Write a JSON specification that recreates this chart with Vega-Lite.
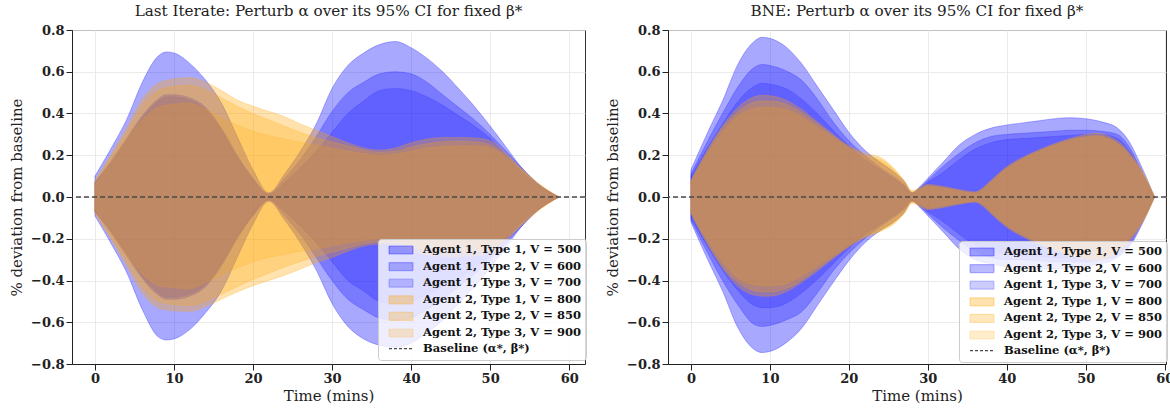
{
"$schema": "https://vega.github.io/schema/vega-lite/v6.json",
"background": "white",
"padding": {"left": 8, "right": 0, "top": 3, "bottom": 0},
"spacing": 17,
"config": {
  "font": "DejaVu Serif",
  "view": {"stroke": "#333333", "strokeWidth": 1},
  "axis": {"labelFont": "DejaVu Serif", "labelFontWeight": "bold", "labelFontSize": 13, "labelColor": "#222", "labelPadding": 2,
           "titleFont": "DejaVu Serif", "titleFontWeight": "normal", "titleFontSize": 15, "titleColor": "#222",
           "grid": true, "gridColor": "#e6e6e6", "gridWidth": 0.8, "tickColor": "#222", "tickSize": 6, "domainColor": "#222"},
  "axisX": {"titlePadding": 3},
  "axisY": {"titlePadding": 6},
  "title": {"font": "DejaVu Serif", "fontSize": 15.2, "fontWeight": "normal", "color": "#222", "offset": 5},
  "legend": {"fillColor": "rgba(255,255,255,0.8)", "strokeColor": "#cccccc", "cornerRadius": 3, "padding": 5,
             "labelFont": "DejaVu Serif", "labelFontSize": 11.5, "labelFontWeight": "bold", "labelColor": "#111", "labelLimit": 300,
             "symbolSize": 100, "rowPadding": 2.6, "labelOffset": 16, "symbolOffset": 12}
},
"datasets": {
"bands": [
{"p":"L","s":"B1","t":0,"hi":0.10,"lo":-0.09},{"p":"L","s":"B1","t":2,"hi":0.23,"lo":-0.22},{"p":"L","s":"B1","t":4,"hi":0.37,"lo":-0.36},{"p":"L","s":"B1","t":6,"hi":0.55,"lo":-0.54},{"p":"L","s":"B1","t":8,"hi":0.675,"lo":-0.67},{"p":"L","s":"B1","t":9,"hi":0.695,"lo":-0.685},{"p":"L","s":"B1","t":10,"hi":0.69,"lo":-0.68},{"p":"L","s":"B1","t":12,"hi":0.64,"lo":-0.635},{"p":"L","s":"B1","t":14,"hi":0.56,"lo":-0.555},{"p":"L","s":"B1","t":16,"hi":0.45,"lo":-0.45},{"p":"L","s":"B1","t":18,"hi":0.29,"lo":-0.29},{"p":"L","s":"B1","t":20,"hi":0.13,"lo":-0.13},{"p":"L","s":"B1","t":22,"hi":0.02,"lo":-0.02},{"p":"L","s":"B1","t":24,"hi":0.11,"lo":-0.11},{"p":"L","s":"B1","t":26,"hi":0.22,"lo":-0.22},{"p":"L","s":"B1","t":28,"hi":0.35,"lo":-0.35},{"p":"L","s":"B1","t":30,"hi":0.52,"lo":-0.51},{"p":"L","s":"B1","t":32,"hi":0.63,"lo":-0.62},{"p":"L","s":"B1","t":34,"hi":0.69,"lo":-0.68},{"p":"L","s":"B1","t":36,"hi":0.73,"lo":-0.71},{"p":"L","s":"B1","t":38,"hi":0.745,"lo":-0.72},{"p":"L","s":"B1","t":40,"hi":0.715,"lo":-0.70},{"p":"L","s":"B1","t":42,"hi":0.665,"lo":-0.65},{"p":"L","s":"B1","t":44,"hi":0.60,"lo":-0.59},{"p":"L","s":"B1","t":46,"hi":0.52,"lo":-0.51},{"p":"L","s":"B1","t":48,"hi":0.435,"lo":-0.43},{"p":"L","s":"B1","t":50,"hi":0.34,"lo":-0.34},{"p":"L","s":"B1","t":52,"hi":0.24,"lo":-0.24},{"p":"L","s":"B1","t":54,"hi":0.14,"lo":-0.14},{"p":"L","s":"B1","t":56,"hi":0.065,"lo":-0.065},{"p":"L","s":"B1","t":58.7,"hi":0,"lo":0},
{"p":"L","s":"B2","t":0,"hi":0.07,"lo":-0.07},{"p":"L","s":"B2","t":2,"hi":0.17,"lo":-0.17},{"p":"L","s":"B2","t":4,"hi":0.28,"lo":-0.28},{"p":"L","s":"B2","t":6,"hi":0.39,"lo":-0.39},{"p":"L","s":"B2","t":8,"hi":0.47,"lo":-0.47},{"p":"L","s":"B2","t":9,"hi":0.49,"lo":-0.49},{"p":"L","s":"B2","t":10,"hi":0.49,"lo":-0.49},{"p":"L","s":"B2","t":12,"hi":0.475,"lo":-0.475},{"p":"L","s":"B2","t":14,"hi":0.43,"lo":-0.43},{"p":"L","s":"B2","t":16,"hi":0.33,"lo":-0.33},{"p":"L","s":"B2","t":18,"hi":0.20,"lo":-0.20},{"p":"L","s":"B2","t":20,"hi":0.09,"lo":-0.09},{"p":"L","s":"B2","t":22,"hi":0.015,"lo":-0.015},{"p":"L","s":"B2","t":24,"hi":0.09,"lo":-0.09},{"p":"L","s":"B2","t":26,"hi":0.18,"lo":-0.18},{"p":"L","s":"B2","t":28,"hi":0.29,"lo":-0.29},{"p":"L","s":"B2","t":30,"hi":0.41,"lo":-0.40},{"p":"L","s":"B2","t":32,"hi":0.50,"lo":-0.49},{"p":"L","s":"B2","t":34,"hi":0.55,"lo":-0.54},{"p":"L","s":"B2","t":36,"hi":0.59,"lo":-0.58},{"p":"L","s":"B2","t":38,"hi":0.60,"lo":-0.59},{"p":"L","s":"B2","t":40,"hi":0.59,"lo":-0.58},{"p":"L","s":"B2","t":42,"hi":0.55,"lo":-0.54},{"p":"L","s":"B2","t":44,"hi":0.49,"lo":-0.49},{"p":"L","s":"B2","t":46,"hi":0.43,"lo":-0.43},{"p":"L","s":"B2","t":48,"hi":0.37,"lo":-0.37},{"p":"L","s":"B2","t":50,"hi":0.30,"lo":-0.30},{"p":"L","s":"B2","t":52,"hi":0.22,"lo":-0.22},{"p":"L","s":"B2","t":54,"hi":0.14,"lo":-0.14},{"p":"L","s":"B2","t":56,"hi":0.065,"lo":-0.065},{"p":"L","s":"B2","t":58.7,"hi":0,"lo":0},
{"p":"L","s":"B3","t":0,"hi":0.07,"lo":-0.07},{"p":"L","s":"B3","t":2,"hi":0.16,"lo":-0.16},{"p":"L","s":"B3","t":4,"hi":0.27,"lo":-0.27},{"p":"L","s":"B3","t":6,"hi":0.38,"lo":-0.38},{"p":"L","s":"B3","t":8,"hi":0.46,"lo":-0.46},{"p":"L","s":"B3","t":9,"hi":0.48,"lo":-0.48},{"p":"L","s":"B3","t":10,"hi":0.48,"lo":-0.48},{"p":"L","s":"B3","t":12,"hi":0.465,"lo":-0.465},{"p":"L","s":"B3","t":14,"hi":0.42,"lo":-0.42},{"p":"L","s":"B3","t":16,"hi":0.32,"lo":-0.32},{"p":"L","s":"B3","t":18,"hi":0.19,"lo":-0.19},{"p":"L","s":"B3","t":20,"hi":0.085,"lo":-0.085},{"p":"L","s":"B3","t":22,"hi":0.012,"lo":-0.012},{"p":"L","s":"B3","t":24,"hi":0.07,"lo":-0.07},{"p":"L","s":"B3","t":26,"hi":0.14,"lo":-0.14},{"p":"L","s":"B3","t":28,"hi":0.22,"lo":-0.22},{"p":"L","s":"B3","t":30,"hi":0.31,"lo":-0.31},{"p":"L","s":"B3","t":32,"hi":0.40,"lo":-0.40},{"p":"L","s":"B3","t":34,"hi":0.46,"lo":-0.45},{"p":"L","s":"B3","t":36,"hi":0.51,"lo":-0.50},{"p":"L","s":"B3","t":38,"hi":0.52,"lo":-0.51},{"p":"L","s":"B3","t":40,"hi":0.51,"lo":-0.50},{"p":"L","s":"B3","t":42,"hi":0.48,"lo":-0.47},{"p":"L","s":"B3","t":44,"hi":0.44,"lo":-0.43},{"p":"L","s":"B3","t":46,"hi":0.39,"lo":-0.39},{"p":"L","s":"B3","t":48,"hi":0.34,"lo":-0.34},{"p":"L","s":"B3","t":50,"hi":0.28,"lo":-0.28},{"p":"L","s":"B3","t":52,"hi":0.20,"lo":-0.20},{"p":"L","s":"B3","t":54,"hi":0.12,"lo":-0.12},{"p":"L","s":"B3","t":56,"hi":0.06,"lo":-0.06},{"p":"L","s":"B3","t":58.7,"hi":0,"lo":0},
{"p":"L","s":"O1","t":0,"hi":0.08,"lo":-0.08},{"p":"L","s":"O1","t":2,"hi":0.20,"lo":-0.20},{"p":"L","s":"O1","t":4,"hi":0.33,"lo":-0.33},{"p":"L","s":"O1","t":6,"hi":0.47,"lo":-0.46},{"p":"L","s":"O1","t":8,"hi":0.545,"lo":-0.53},{"p":"L","s":"O1","t":10,"hi":0.565,"lo":-0.545},{"p":"L","s":"O1","t":12,"hi":0.572,"lo":-0.548},{"p":"L","s":"O1","t":14,"hi":0.55,"lo":-0.525},{"p":"L","s":"O1","t":16,"hi":0.51,"lo":-0.49},{"p":"L","s":"O1","t":18,"hi":0.465,"lo":-0.455},{"p":"L","s":"O1","t":20,"hi":0.435,"lo":-0.425},{"p":"L","s":"O1","t":22,"hi":0.41,"lo":-0.40},{"p":"L","s":"O1","t":24,"hi":0.385,"lo":-0.375},{"p":"L","s":"O1","t":26,"hi":0.35,"lo":-0.345},{"p":"L","s":"O1","t":28,"hi":0.32,"lo":-0.315},{"p":"L","s":"O1","t":30,"hi":0.29,"lo":-0.29},{"p":"L","s":"O1","t":32,"hi":0.26,"lo":-0.26},{"p":"L","s":"O1","t":34,"hi":0.235,"lo":-0.235},{"p":"L","s":"O1","t":36,"hi":0.225,"lo":-0.225},{"p":"L","s":"O1","t":38,"hi":0.235,"lo":-0.235},{"p":"L","s":"O1","t":40,"hi":0.26,"lo":-0.26},{"p":"L","s":"O1","t":42,"hi":0.278,"lo":-0.278},{"p":"L","s":"O1","t":44,"hi":0.285,"lo":-0.285},{"p":"L","s":"O1","t":46,"hi":0.285,"lo":-0.285},{"p":"L","s":"O1","t":48,"hi":0.283,"lo":-0.283},{"p":"L","s":"O1","t":50,"hi":0.27,"lo":-0.27},{"p":"L","s":"O1","t":52,"hi":0.21,"lo":-0.21},{"p":"L","s":"O1","t":54,"hi":0.135,"lo":-0.135},{"p":"L","s":"O1","t":56,"hi":0.07,"lo":-0.07},{"p":"L","s":"O1","t":58.7,"hi":0,"lo":0},
{"p":"L","s":"O2","t":0,"hi":0.07,"lo":-0.07},{"p":"L","s":"O2","t":2,"hi":0.19,"lo":-0.19},{"p":"L","s":"O2","t":4,"hi":0.31,"lo":-0.31},{"p":"L","s":"O2","t":6,"hi":0.44,"lo":-0.43},{"p":"L","s":"O2","t":8,"hi":0.51,"lo":-0.50},{"p":"L","s":"O2","t":10,"hi":0.53,"lo":-0.515},{"p":"L","s":"O2","t":12,"hi":0.535,"lo":-0.52},{"p":"L","s":"O2","t":14,"hi":0.515,"lo":-0.50},{"p":"L","s":"O2","t":16,"hi":0.475,"lo":-0.465},{"p":"L","s":"O2","t":18,"hi":0.435,"lo":-0.43},{"p":"L","s":"O2","t":20,"hi":0.40,"lo":-0.395},{"p":"L","s":"O2","t":22,"hi":0.37,"lo":-0.365},{"p":"L","s":"O2","t":24,"hi":0.34,"lo":-0.335},{"p":"L","s":"O2","t":26,"hi":0.31,"lo":-0.31},{"p":"L","s":"O2","t":28,"hi":0.285,"lo":-0.285},{"p":"L","s":"O2","t":30,"hi":0.265,"lo":-0.265},{"p":"L","s":"O2","t":32,"hi":0.245,"lo":-0.245},{"p":"L","s":"O2","t":34,"hi":0.225,"lo":-0.225},{"p":"L","s":"O2","t":36,"hi":0.215,"lo":-0.215},{"p":"L","s":"O2","t":38,"hi":0.22,"lo":-0.22},{"p":"L","s":"O2","t":40,"hi":0.24,"lo":-0.24},{"p":"L","s":"O2","t":42,"hi":0.255,"lo":-0.255},{"p":"L","s":"O2","t":44,"hi":0.265,"lo":-0.265},{"p":"L","s":"O2","t":46,"hi":0.268,"lo":-0.268},{"p":"L","s":"O2","t":48,"hi":0.265,"lo":-0.265},{"p":"L","s":"O2","t":50,"hi":0.25,"lo":-0.25},{"p":"L","s":"O2","t":52,"hi":0.20,"lo":-0.20},{"p":"L","s":"O2","t":54,"hi":0.13,"lo":-0.13},{"p":"L","s":"O2","t":56,"hi":0.065,"lo":-0.065},{"p":"L","s":"O2","t":58.7,"hi":0,"lo":0},
{"p":"L","s":"O3","t":0,"hi":0.06,"lo":-0.06},{"p":"L","s":"O3","t":2,"hi":0.17,"lo":-0.17},{"p":"L","s":"O3","t":4,"hi":0.28,"lo":-0.28},{"p":"L","s":"O3","t":6,"hi":0.37,"lo":-0.37},{"p":"L","s":"O3","t":8,"hi":0.43,"lo":-0.425},{"p":"L","s":"O3","t":10,"hi":0.445,"lo":-0.435},{"p":"L","s":"O3","t":12,"hi":0.45,"lo":-0.44},{"p":"L","s":"O3","t":14,"hi":0.42,"lo":-0.41},{"p":"L","s":"O3","t":16,"hi":0.38,"lo":-0.375},{"p":"L","s":"O3","t":18,"hi":0.345,"lo":-0.34},{"p":"L","s":"O3","t":20,"hi":0.315,"lo":-0.31},{"p":"L","s":"O3","t":22,"hi":0.295,"lo":-0.29},{"p":"L","s":"O3","t":24,"hi":0.278,"lo":-0.275},{"p":"L","s":"O3","t":26,"hi":0.262,"lo":-0.26},{"p":"L","s":"O3","t":28,"hi":0.248,"lo":-0.248},{"p":"L","s":"O3","t":30,"hi":0.235,"lo":-0.235},{"p":"L","s":"O3","t":32,"hi":0.22,"lo":-0.22},{"p":"L","s":"O3","t":34,"hi":0.208,"lo":-0.208},{"p":"L","s":"O3","t":36,"hi":0.20,"lo":-0.20},{"p":"L","s":"O3","t":38,"hi":0.205,"lo":-0.205},{"p":"L","s":"O3","t":40,"hi":0.22,"lo":-0.22},{"p":"L","s":"O3","t":42,"hi":0.235,"lo":-0.235},{"p":"L","s":"O3","t":44,"hi":0.242,"lo":-0.242},{"p":"L","s":"O3","t":46,"hi":0.245,"lo":-0.245},{"p":"L","s":"O3","t":48,"hi":0.245,"lo":-0.245},{"p":"L","s":"O3","t":50,"hi":0.235,"lo":-0.235},{"p":"L","s":"O3","t":52,"hi":0.19,"lo":-0.19},{"p":"L","s":"O3","t":54,"hi":0.125,"lo":-0.125},{"p":"L","s":"O3","t":56,"hi":0.06,"lo":-0.06},{"p":"L","s":"O3","t":58.7,"hi":0,"lo":0},
{"p":"R","s":"B1","t":0,"hi":0.13,"lo":-0.12},{"p":"R","s":"B1","t":2,"hi":0.30,"lo":-0.29},{"p":"R","s":"B1","t":4,"hi":0.46,"lo":-0.45},{"p":"R","s":"B1","t":6,"hi":0.64,"lo":-0.63},{"p":"R","s":"B1","t":8,"hi":0.745,"lo":-0.73},{"p":"R","s":"B1","t":9,"hi":0.765,"lo":-0.745},{"p":"R","s":"B1","t":10,"hi":0.76,"lo":-0.74},{"p":"R","s":"B1","t":12,"hi":0.72,"lo":-0.70},{"p":"R","s":"B1","t":14,"hi":0.64,"lo":-0.63},{"p":"R","s":"B1","t":16,"hi":0.53,"lo":-0.52},{"p":"R","s":"B1","t":18,"hi":0.42,"lo":-0.41},{"p":"R","s":"B1","t":20,"hi":0.31,"lo":-0.305},{"p":"R","s":"B1","t":22,"hi":0.225,"lo":-0.22},{"p":"R","s":"B1","t":24,"hi":0.165,"lo":-0.16},{"p":"R","s":"B1","t":26,"hi":0.11,"lo":-0.11},{"p":"R","s":"B1","t":27,"hi":0.075,"lo":-0.075},{"p":"R","s":"B1","t":28,"hi":0.02,"lo":-0.02},{"p":"R","s":"B1","t":29,"hi":0.05,"lo":-0.05},{"p":"R","s":"B1","t":30,"hi":0.09,"lo":-0.09},{"p":"R","s":"B1","t":32,"hi":0.17,"lo":-0.17},{"p":"R","s":"B1","t":34,"hi":0.25,"lo":-0.25},{"p":"R","s":"B1","t":36,"hi":0.30,"lo":-0.30},{"p":"R","s":"B1","t":38,"hi":0.33,"lo":-0.32},{"p":"R","s":"B1","t":40,"hi":0.345,"lo":-0.335},{"p":"R","s":"B1","t":42,"hi":0.355,"lo":-0.34},{"p":"R","s":"B1","t":44,"hi":0.365,"lo":-0.345},{"p":"R","s":"B1","t":46,"hi":0.375,"lo":-0.345},{"p":"R","s":"B1","t":48,"hi":0.38,"lo":-0.34},{"p":"R","s":"B1","t":50,"hi":0.375,"lo":-0.33},{"p":"R","s":"B1","t":52,"hi":0.36,"lo":-0.32},{"p":"R","s":"B1","t":54,"hi":0.33,"lo":-0.29},{"p":"R","s":"B1","t":55.5,"hi":0.265,"lo":-0.24},{"p":"R","s":"B1","t":57,"hi":0.15,"lo":-0.14},{"p":"R","s":"B1","t":58.7,"hi":0,"lo":0},
{"p":"R","s":"B2","t":0,"hi":0.11,"lo":-0.11},{"p":"R","s":"B2","t":2,"hi":0.26,"lo":-0.26},{"p":"R","s":"B2","t":4,"hi":0.40,"lo":-0.40},{"p":"R","s":"B2","t":6,"hi":0.53,"lo":-0.52},{"p":"R","s":"B2","t":8,"hi":0.62,"lo":-0.61},{"p":"R","s":"B2","t":9,"hi":0.635,"lo":-0.62},{"p":"R","s":"B2","t":10,"hi":0.63,"lo":-0.615},{"p":"R","s":"B2","t":12,"hi":0.605,"lo":-0.59},{"p":"R","s":"B2","t":14,"hi":0.56,"lo":-0.55},{"p":"R","s":"B2","t":16,"hi":0.47,"lo":-0.46},{"p":"R","s":"B2","t":18,"hi":0.36,"lo":-0.355},{"p":"R","s":"B2","t":20,"hi":0.27,"lo":-0.27},{"p":"R","s":"B2","t":22,"hi":0.20,"lo":-0.20},{"p":"R","s":"B2","t":24,"hi":0.14,"lo":-0.14},{"p":"R","s":"B2","t":26,"hi":0.09,"lo":-0.09},{"p":"R","s":"B2","t":27,"hi":0.06,"lo":-0.06},{"p":"R","s":"B2","t":28,"hi":0.02,"lo":-0.02},{"p":"R","s":"B2","t":29,"hi":0.045,"lo":-0.045},{"p":"R","s":"B2","t":30,"hi":0.08,"lo":-0.08},{"p":"R","s":"B2","t":32,"hi":0.15,"lo":-0.15},{"p":"R","s":"B2","t":34,"hi":0.21,"lo":-0.21},{"p":"R","s":"B2","t":36,"hi":0.26,"lo":-0.26},{"p":"R","s":"B2","t":38,"hi":0.29,"lo":-0.29},{"p":"R","s":"B2","t":40,"hi":0.30,"lo":-0.30},{"p":"R","s":"B2","t":42,"hi":0.305,"lo":-0.30},{"p":"R","s":"B2","t":44,"hi":0.31,"lo":-0.305},{"p":"R","s":"B2","t":46,"hi":0.315,"lo":-0.31},{"p":"R","s":"B2","t":48,"hi":0.32,"lo":-0.31},{"p":"R","s":"B2","t":50,"hi":0.32,"lo":-0.31},{"p":"R","s":"B2","t":52,"hi":0.315,"lo":-0.30},{"p":"R","s":"B2","t":54,"hi":0.30,"lo":-0.28},{"p":"R","s":"B2","t":55.5,"hi":0.24,"lo":-0.23},{"p":"R","s":"B2","t":57,"hi":0.13,"lo":-0.13},{"p":"R","s":"B2","t":58.7,"hi":0,"lo":0},
{"p":"R","s":"B3","t":0,"hi":0.10,"lo":-0.10},{"p":"R","s":"B3","t":2,"hi":0.23,"lo":-0.23},{"p":"R","s":"B3","t":4,"hi":0.35,"lo":-0.35},{"p":"R","s":"B3","t":6,"hi":0.46,"lo":-0.45},{"p":"R","s":"B3","t":8,"hi":0.53,"lo":-0.52},{"p":"R","s":"B3","t":9,"hi":0.545,"lo":-0.53},{"p":"R","s":"B3","t":10,"hi":0.54,"lo":-0.53},{"p":"R","s":"B3","t":12,"hi":0.52,"lo":-0.51},{"p":"R","s":"B3","t":14,"hi":0.47,"lo":-0.46},{"p":"R","s":"B3","t":16,"hi":0.40,"lo":-0.395},{"p":"R","s":"B3","t":18,"hi":0.32,"lo":-0.32},{"p":"R","s":"B3","t":20,"hi":0.245,"lo":-0.245},{"p":"R","s":"B3","t":22,"hi":0.18,"lo":-0.18},{"p":"R","s":"B3","t":24,"hi":0.13,"lo":-0.13},{"p":"R","s":"B3","t":26,"hi":0.08,"lo":-0.08},{"p":"R","s":"B3","t":27,"hi":0.05,"lo":-0.05},{"p":"R","s":"B3","t":28,"hi":0.015,"lo":-0.015},{"p":"R","s":"B3","t":29,"hi":0.04,"lo":-0.04},{"p":"R","s":"B3","t":30,"hi":0.07,"lo":-0.07},{"p":"R","s":"B3","t":32,"hi":0.12,"lo":-0.12},{"p":"R","s":"B3","t":34,"hi":0.18,"lo":-0.18},{"p":"R","s":"B3","t":36,"hi":0.23,"lo":-0.23},{"p":"R","s":"B3","t":38,"hi":0.26,"lo":-0.26},{"p":"R","s":"B3","t":40,"hi":0.275,"lo":-0.275},{"p":"R","s":"B3","t":42,"hi":0.28,"lo":-0.28},{"p":"R","s":"B3","t":44,"hi":0.285,"lo":-0.285},{"p":"R","s":"B3","t":46,"hi":0.29,"lo":-0.29},{"p":"R","s":"B3","t":48,"hi":0.295,"lo":-0.29},{"p":"R","s":"B3","t":50,"hi":0.30,"lo":-0.29},{"p":"R","s":"B3","t":52,"hi":0.30,"lo":-0.285},{"p":"R","s":"B3","t":54,"hi":0.28,"lo":-0.27},{"p":"R","s":"B3","t":55.5,"hi":0.22,"lo":-0.21},{"p":"R","s":"B3","t":57,"hi":0.12,"lo":-0.12},{"p":"R","s":"B3","t":58.7,"hi":0,"lo":0},
{"p":"R","s":"O1","t":0,"hi":0.08,"lo":-0.08},{"p":"R","s":"O1","t":2,"hi":0.22,"lo":-0.22},{"p":"R","s":"O1","t":4,"hi":0.34,"lo":-0.34},{"p":"R","s":"O1","t":6,"hi":0.43,"lo":-0.43},{"p":"R","s":"O1","t":8,"hi":0.48,"lo":-0.47},{"p":"R","s":"O1","t":9,"hi":0.487,"lo":-0.475},{"p":"R","s":"O1","t":10,"hi":0.485,"lo":-0.475},{"p":"R","s":"O1","t":12,"hi":0.465,"lo":-0.455},{"p":"R","s":"O1","t":14,"hi":0.42,"lo":-0.41},{"p":"R","s":"O1","t":16,"hi":0.36,"lo":-0.355},{"p":"R","s":"O1","t":18,"hi":0.30,"lo":-0.295},{"p":"R","s":"O1","t":20,"hi":0.245,"lo":-0.24},{"p":"R","s":"O1","t":22,"hi":0.21,"lo":-0.195},{"p":"R","s":"O1","t":24,"hi":0.19,"lo":-0.165},{"p":"R","s":"O1","t":26,"hi":0.125,"lo":-0.12},{"p":"R","s":"O1","t":27,"hi":0.08,"lo":-0.08},{"p":"R","s":"O1","t":28,"hi":0.03,"lo":-0.03},{"p":"R","s":"O1","t":29,"hi":0.045,"lo":-0.045},{"p":"R","s":"O1","t":30,"hi":0.06,"lo":-0.06},{"p":"R","s":"O1","t":32,"hi":0.05,"lo":-0.05},{"p":"R","s":"O1","t":34,"hi":0.035,"lo":-0.035},{"p":"R","s":"O1","t":36,"hi":0.025,"lo":-0.025},{"p":"R","s":"O1","t":37,"hi":0.045,"lo":-0.045},{"p":"R","s":"O1","t":38,"hi":0.08,"lo":-0.08},{"p":"R","s":"O1","t":40,"hi":0.145,"lo":-0.145},{"p":"R","s":"O1","t":42,"hi":0.19,"lo":-0.19},{"p":"R","s":"O1","t":44,"hi":0.225,"lo":-0.225},{"p":"R","s":"O1","t":46,"hi":0.255,"lo":-0.255},{"p":"R","s":"O1","t":48,"hi":0.28,"lo":-0.28},{"p":"R","s":"O1","t":50,"hi":0.30,"lo":-0.30},{"p":"R","s":"O1","t":51.5,"hi":0.305,"lo":-0.305},{"p":"R","s":"O1","t":53,"hi":0.29,"lo":-0.29},{"p":"R","s":"O1","t":54.5,"hi":0.255,"lo":-0.255},{"p":"R","s":"O1","t":56,"hi":0.19,"lo":-0.19},{"p":"R","s":"O1","t":57.5,"hi":0.10,"lo":-0.10},{"p":"R","s":"O1","t":58.7,"hi":0,"lo":0},
{"p":"R","s":"O2","t":0,"hi":0.075,"lo":-0.075},{"p":"R","s":"O2","t":2,"hi":0.21,"lo":-0.21},{"p":"R","s":"O2","t":4,"hi":0.33,"lo":-0.33},{"p":"R","s":"O2","t":6,"hi":0.41,"lo":-0.41},{"p":"R","s":"O2","t":8,"hi":0.455,"lo":-0.45},{"p":"R","s":"O2","t":9,"hi":0.46,"lo":-0.455},{"p":"R","s":"O2","t":10,"hi":0.46,"lo":-0.455},{"p":"R","s":"O2","t":12,"hi":0.445,"lo":-0.44},{"p":"R","s":"O2","t":14,"hi":0.405,"lo":-0.40},{"p":"R","s":"O2","t":16,"hi":0.35,"lo":-0.345},{"p":"R","s":"O2","t":18,"hi":0.295,"lo":-0.29},{"p":"R","s":"O2","t":20,"hi":0.24,"lo":-0.235},{"p":"R","s":"O2","t":22,"hi":0.20,"lo":-0.19},{"p":"R","s":"O2","t":24,"hi":0.18,"lo":-0.16},{"p":"R","s":"O2","t":26,"hi":0.12,"lo":-0.115},{"p":"R","s":"O2","t":27,"hi":0.075,"lo":-0.075},{"p":"R","s":"O2","t":28,"hi":0.025,"lo":-0.025},{"p":"R","s":"O2","t":29,"hi":0.04,"lo":-0.04},{"p":"R","s":"O2","t":30,"hi":0.055,"lo":-0.055},{"p":"R","s":"O2","t":32,"hi":0.045,"lo":-0.045},{"p":"R","s":"O2","t":34,"hi":0.03,"lo":-0.03},{"p":"R","s":"O2","t":36,"hi":0.02,"lo":-0.02},{"p":"R","s":"O2","t":37,"hi":0.04,"lo":-0.04},{"p":"R","s":"O2","t":38,"hi":0.075,"lo":-0.075},{"p":"R","s":"O2","t":40,"hi":0.14,"lo":-0.14},{"p":"R","s":"O2","t":42,"hi":0.185,"lo":-0.185},{"p":"R","s":"O2","t":44,"hi":0.22,"lo":-0.22},{"p":"R","s":"O2","t":46,"hi":0.25,"lo":-0.25},{"p":"R","s":"O2","t":48,"hi":0.275,"lo":-0.275},{"p":"R","s":"O2","t":50,"hi":0.29,"lo":-0.29},{"p":"R","s":"O2","t":51.5,"hi":0.295,"lo":-0.295},{"p":"R","s":"O2","t":53,"hi":0.28,"lo":-0.28},{"p":"R","s":"O2","t":54.5,"hi":0.245,"lo":-0.245},{"p":"R","s":"O2","t":56,"hi":0.18,"lo":-0.18},{"p":"R","s":"O2","t":57.5,"hi":0.095,"lo":-0.095},{"p":"R","s":"O2","t":58.7,"hi":0,"lo":0},
{"p":"R","s":"O3","t":0,"hi":0.07,"lo":-0.07},{"p":"R","s":"O3","t":2,"hi":0.20,"lo":-0.20},{"p":"R","s":"O3","t":4,"hi":0.31,"lo":-0.31},{"p":"R","s":"O3","t":6,"hi":0.39,"lo":-0.39},{"p":"R","s":"O3","t":8,"hi":0.425,"lo":-0.42},{"p":"R","s":"O3","t":9,"hi":0.43,"lo":-0.425},{"p":"R","s":"O3","t":10,"hi":0.43,"lo":-0.425},{"p":"R","s":"O3","t":12,"hi":0.42,"lo":-0.415},{"p":"R","s":"O3","t":14,"hi":0.385,"lo":-0.38},{"p":"R","s":"O3","t":16,"hi":0.335,"lo":-0.33},{"p":"R","s":"O3","t":18,"hi":0.285,"lo":-0.28},{"p":"R","s":"O3","t":20,"hi":0.235,"lo":-0.23},{"p":"R","s":"O3","t":22,"hi":0.195,"lo":-0.185},{"p":"R","s":"O3","t":24,"hi":0.17,"lo":-0.155},{"p":"R","s":"O3","t":26,"hi":0.115,"lo":-0.11},{"p":"R","s":"O3","t":27,"hi":0.07,"lo":-0.07},{"p":"R","s":"O3","t":28,"hi":0.02,"lo":-0.02},{"p":"R","s":"O3","t":29,"hi":0.035,"lo":-0.035},{"p":"R","s":"O3","t":30,"hi":0.05,"lo":-0.05},{"p":"R","s":"O3","t":32,"hi":0.04,"lo":-0.04},{"p":"R","s":"O3","t":34,"hi":0.028,"lo":-0.028},{"p":"R","s":"O3","t":36,"hi":0.018,"lo":-0.018},{"p":"R","s":"O3","t":37,"hi":0.035,"lo":-0.035},{"p":"R","s":"O3","t":38,"hi":0.07,"lo":-0.07},{"p":"R","s":"O3","t":40,"hi":0.135,"lo":-0.135},{"p":"R","s":"O3","t":42,"hi":0.18,"lo":-0.18},{"p":"R","s":"O3","t":44,"hi":0.215,"lo":-0.215},{"p":"R","s":"O3","t":46,"hi":0.245,"lo":-0.245},{"p":"R","s":"O3","t":48,"hi":0.27,"lo":-0.27},{"p":"R","s":"O3","t":50,"hi":0.285,"lo":-0.285},{"p":"R","s":"O3","t":51.5,"hi":0.29,"lo":-0.29},{"p":"R","s":"O3","t":53,"hi":0.275,"lo":-0.275},{"p":"R","s":"O3","t":54.5,"hi":0.24,"lo":-0.24},{"p":"R","s":"O3","t":56,"hi":0.175,"lo":-0.175},{"p":"R","s":"O3","t":57.5,"hi":0.09,"lo":-0.09},{"p":"R","s":"O3","t":58.7,"hi":0,"lo":0}
]
},
"resolve": {"scale": {"x": "independent", "y": "independent", "color": "independent", "stroke": "independent"}, "legend": {"color": "independent"}},
"hconcat": [
{
  "title": "Last Iterate: Perturb α over its 95% CI for fixed β*",
  "width": 513, "height": 334,
  "layer": [
    {
      "data": {"name": "bands"},
      "transform": [{"filter": "datum.p == 'L'"}],
      "mark": {"type": "area", "interpolate": "monotone", "strokeWidth": 0.8},
      "encoding": {
        "x": {"field": "t", "type": "quantitative", "scale": {"domain": [-2.9, 62], "nice": false, "zero": false}, "axis": {"values": [0,10,20,30,40,50,60], "title": "Time (mins)"}},
        "y": {"field": "hi", "type": "quantitative", "scale": {"domain": [-0.8, 0.8], "nice": false}, "axis": {"values": [-0.8,-0.6,-0.4,-0.2,0,0.2,0.4,0.6,0.8], "format": ".1f", "title": "% deviation from baseline"}},
        "y2": {"field": "lo"},
        "color": {"field": "s", "type": "nominal", "scale": {"domain": ["B1","B2","B3","O1","O2","O3","BL"], "range": ["rgba(0,0,255,0.34)","rgba(0,0,255,0.27)","rgba(0,0,255,0.2)","rgba(255,165,0,0.32)","rgba(255,165,0,0.26)","rgba(255,165,0,0.2)","#4a4a4a"]},
          "legend": {"title": null, "orient": "none", "legendX": 306, "legendY": 209,
            "labelExpr": "datum.label == 'B1' ? 'Agent 1, Type 1, V = 500' : datum.label == 'B2' ? 'Agent 1, Type 2, V = 600' : datum.label == 'B3' ? 'Agent 1, Type 3, V = 700' : datum.label == 'O1' ? 'Agent 2, Type 1, V = 800' : datum.label == 'O2' ? 'Agent 2, Type 2, V = 850' : datum.label == 'O3' ? 'Agent 2, Type 3, V = 900' : 'Baseline (α*, β*)'",
            "encode": {"symbols": {"update": {"shape": {"signal": "datum.value == 'BL' ? 'M-2.4,0H2.4' : 'M-2.4,-0.8H2.4V0.8H-2.4Z'"}, "strokeDash": {"signal": "datum.value == 'BL' ? [3,2] : [1,0]"}, "strokeWidth": {"value": 1.2}}}}}},
        "stroke": {"field": "s", "type": "nominal", "scale": {"domain": ["B1","B2","B3","O1","O2","O3"], "range": ["rgba(0,0,255,0.34)","rgba(0,0,255,0.27)","rgba(0,0,255,0.2)","rgba(255,165,0,0.32)","rgba(255,165,0,0.26)","rgba(255,165,0,0.2)"]}, "legend": null}
      }
    },
    {
      "data": {"values": [{"k": 0}]},
      "mark": {"type": "rule", "strokeDash": [5,3], "strokeWidth": 1.3},
      "encoding": {"y": {"datum": 0}, "color": {"datum": "BL"}}
    }
  ]
},
{
  "title": "BNE: Perturb α over its 95% CI for fixed β*",
  "width": 498, "height": 334,
  "layer": [
    {
      "data": {"name": "bands"},
      "transform": [{"filter": "datum.p == 'R'"}],
      "mark": {"type": "area", "interpolate": "monotone", "strokeWidth": 0.8},
      "encoding": {
        "x": {"field": "t", "type": "quantitative", "scale": {"domain": [-2.9, 60.15], "nice": false, "zero": false}, "axis": {"values": [0,10,20,30,40,50,60], "title": "Time (mins)"}},
        "y": {"field": "hi", "type": "quantitative", "scale": {"domain": [-0.8, 0.8], "nice": false}, "axis": {"values": [-0.8,-0.6,-0.4,-0.2,0,0.2,0.4,0.6,0.8], "format": ".1f", "title": "% deviation from baseline"}},
        "y2": {"field": "lo"},
        "color": {"field": "s", "type": "nominal", "scale": {"domain": ["B1","B2","B3","O1","O2","O3","BL"], "range": ["rgba(0,0,255,0.34)","rgba(0,0,255,0.27)","rgba(0,0,255,0.2)","rgba(255,165,0,0.32)","rgba(255,165,0,0.26)","rgba(255,165,0,0.2)","#4a4a4a"]},
          "legend": {"title": null, "orient": "none", "legendX": 291, "legendY": 211,
            "labelExpr": "datum.label == 'B1' ? 'Agent 1, Type 1, V = 500' : datum.label == 'B2' ? 'Agent 1, Type 2, V = 600' : datum.label == 'B3' ? 'Agent 1, Type 3, V = 700' : datum.label == 'O1' ? 'Agent 2, Type 1, V = 800' : datum.label == 'O2' ? 'Agent 2, Type 2, V = 850' : datum.label == 'O3' ? 'Agent 2, Type 3, V = 900' : 'Baseline (α*, β*)'",
            "encode": {"symbols": {"update": {"shape": {"signal": "datum.value == 'BL' ? 'M-2.4,0H2.4' : 'M-2.4,-0.8H2.4V0.8H-2.4Z'"}, "strokeDash": {"signal": "datum.value == 'BL' ? [3,2] : [1,0]"}, "strokeWidth": {"value": 1.2}}}}}},
        "stroke": {"field": "s", "type": "nominal", "scale": {"domain": ["B1","B2","B3","O1","O2","O3"], "range": ["rgba(0,0,255,0.34)","rgba(0,0,255,0.27)","rgba(0,0,255,0.2)","rgba(255,165,0,0.32)","rgba(255,165,0,0.26)","rgba(255,165,0,0.2)"]}, "legend": null}
      }
    },
    {
      "data": {"values": [{"k": 0}]},
      "mark": {"type": "rule", "strokeDash": [5,3], "strokeWidth": 1.3},
      "encoding": {"y": {"datum": 0}, "color": {"datum": "BL"}}
    }
  ]
}
]
}
